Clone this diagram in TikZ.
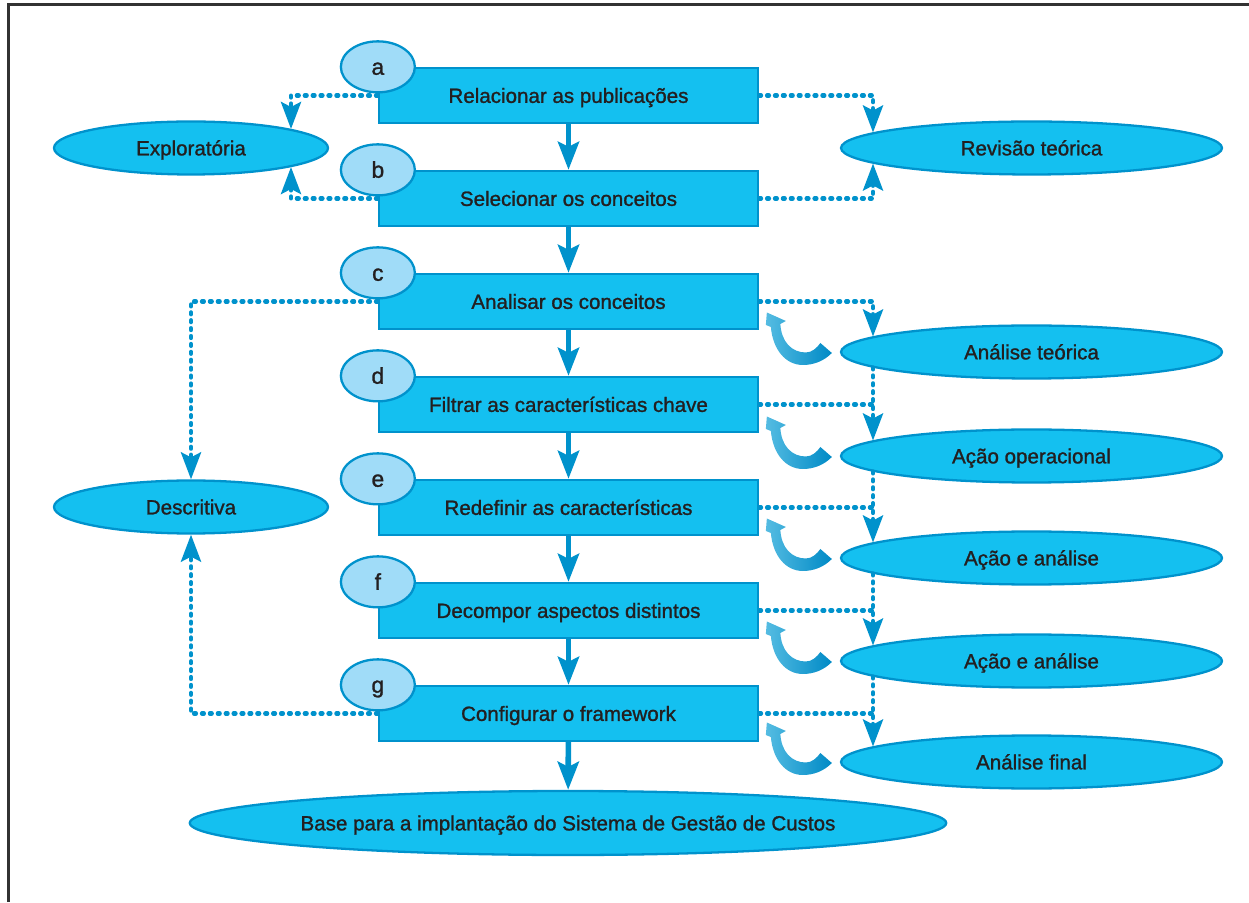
\documentclass[tikz,border=0pt]{standalone}
\usepackage{fontspec}
\setmainfont{Liberation Sans}[FakeBold=1.2]
\usetikzlibrary{arrows.meta,shapes.geometric}

\definecolor{boxblue}{RGB}{20,192,240}
\definecolor{lineblue}{RGB}{0,146,204}
\definecolor{labelblue}{RGB}{160,220,248}
\definecolor{textgray}{RGB}{35,31,32}
\definecolor{fblight}{RGB}{85,188,226}
\definecolor{fbdark}{RGB}{0,138,198}
\definecolor{framegray}{RGB}{50,50,50}

\tikzset{
    stepbox/.style={rectangle, draw=lineblue, line width=1.3pt, fill=boxblue, minimum width=7.58cm, minimum height=1.1cm, inner sep=0pt, text=textgray, font=\fontsize{11.7}{14}\selectfont, text height=8.4pt, text depth=0pt},
    letterlabel/.style={ellipse, draw=lineblue, line width=1.3pt, fill=labelblue, minimum width=1.48cm, minimum height=1.02cm, inner sep=0pt, text=textgray, font=\fontsize{13}{15}\selectfont, text height=9pt, text depth=0pt},
    sideoval/.style={ellipse, draw=lineblue, line width=1.3pt, fill=boxblue, minimum height=1.06cm, inner sep=0pt, text=textgray, font=\fontsize{11.7}{14}\selectfont, text height=8.4pt, text depth=0pt},
    mainarrow/.style={draw=lineblue, line width=3.2pt, -{Stealth[length=0.56cm, width=0.42cm, inset=0.1cm]}},
    dotline/.style={draw=lineblue, line width=2.4pt, line cap=round, dash pattern=on 1.1pt off 3.4pt},
    dotarrow/.style={dotline, -{Stealth[length=0.54cm, width=0.4cm, inset=0.1cm]}}
}

\begin{document}
\begin{tikzpicture}
        \useasboundingbox (0, 0) rectangle (24.98, 18.04);
        \newcommand{\backarrow}[1]{%
            \shade[left color=fblight, right color=fbdark, shift={(#1)}, x=0.02cm, y=-0.02cm]
                (-73, -39.5) -- (-54, -31) -- (-59.5, -28)
                .. controls (-58.5, -10) and (-48, 0.5) .. (-34, 0.5)
                .. controls (-28, 0.5) and (-23, -4) .. (-19.5, -9)
                -- (-8, 1)
                .. controls (-16, 9) and (-26, 13) .. (-37, 13)
                .. controls (-54, 13) and (-67, -2) .. (-69, -25)
                -- (-74, -27) -- cycle;}

        % frame
        \draw[line width=1.7pt, draw=framegray] (0.17, 0) -- (0.17, 17.956) -- (24.98, 17.956);

        % steps
        \node (ra) at (11.37, 16.13) [stepbox] {Relacionar as publicações};
        \node (sc) at (11.37, 14.07) [stepbox] {Selecionar os conceitos};
        \node (ac) at (11.37, 12.01) [stepbox] {Analisar os conceitos};
        \node (fc) at (11.37, 9.95) [stepbox] {Filtrar as características chave};
        \node (rc) at (11.37, 7.89) [stepbox] {Redefinir as características};
        \node (da) at (11.37, 5.83) [stepbox] {Decompor aspectos distintos};
        \node (cf) at (11.37, 3.77) [stepbox] {Configurar o framework};
        \node (base) at (11.36, 1.58) [sideoval, minimum width=15.04cm, minimum height=1.28cm] {Base para a implantação do Sistema de Gestão de Custos};

        % left ovals
        \node (ex) at (3.82, 15.08) [sideoval, minimum width=5.48cm] {Exploratória};
        \node (ds) at (3.82, 7.9) [sideoval, minimum width=5.48cm] {Descritiva};

        % right ovals
        \node (rt) at (20.63, 15.08) [sideoval, minimum width=7.62cm] {Revisão teórica};
        \node (at) at (20.63, 11.0) [sideoval, minimum width=7.62cm] {Análise teórica};
        \node (ao) at (20.63, 8.92) [sideoval, minimum width=7.62cm] {Ação operacional};
        \node (aa) at (20.63, 6.88) [sideoval, minimum width=7.62cm] {Ação e análise};
        \node (ab) at (20.63, 4.82) [sideoval, minimum width=7.62cm] {Ação e análise};
        \node (af) at (20.63, 2.8) [sideoval, minimum width=7.62cm] {Análise final};

        \draw[mainarrow] (ra) -- (sc);
        \draw[mainarrow] (sc) -- (ac);
        \draw[mainarrow] (ac) -- (fc);
        \draw[mainarrow] (fc) -- (rc);
        \draw[mainarrow] (rc) -- (da);
        \draw[mainarrow] (da) -- (cf);
        \draw[mainarrow] (cf) -- (base);

        \draw[dotarrow] (ra.west) -| ([shift={(2, 0.38)}]ex.center);
        \draw[dotarrow] (sc.west) -| ([shift={(2, -0.38)}]ex.center);
        \draw[dotarrow] (ra.east) -| ([shift={(-3.17, 0.31)}]rt.center);
        \draw[dotarrow] (sc.east) -| ([shift={(-3.17, -0.31)}]rt.center);
        \draw[dotarrow] (ac.west) -| (ds.north);
        \draw[dotarrow] (cf.west) -| (ds.south);

        \draw[dotarrow] (ac.east) -| ([shift={(-3.17, 0.31)}]at.center);
        \draw[dotline] (fc.east) -- ([shift={(-3.17, 0)}]fc.east -| ao.center);
        \draw[dotarrow] ([shift={(-3.17, -0.31)}]at.center) -- ([shift={(-3.17, 0.31)}]ao.center);
        \draw[dotline] (rc.east) -- ([shift={(-3.17, 0)}]rc.east -| aa.center);
        \draw[dotarrow] ([shift={(-3.17, -0.31)}]ao.center) -- ([shift={(-3.17, 0.31)}]aa.center);
        \draw[dotline] (da.east) -- ([shift={(-3.17, 0)}]da.east -| ab.center);
        \draw[dotarrow] ([shift={(-3.17, -0.31)}]aa.center) -- ([shift={(-3.17, 0.31)}]ab.center);
        \draw[dotline] (cf.east) -- ([shift={(-3.17, 0)}]cf.east -| af.center);
        \draw[dotarrow] ([shift={(-3.17, -0.31)}]ab.center) -- ([shift={(-3.17, 0.31)}]af.center);

        % letters
        \node (la) at (ra.north west) [letterlabel] {a};
        \node (lb) at (sc.north west) [letterlabel] {b};
        \node (lc) at (ac.north west) [letterlabel] {c};
        \node (ld) at (fc.north west) [letterlabel] {d};
        \node (le) at (rc.north west) [letterlabel] {e};
        \node (lf) at (da.north west) [letterlabel] {f};
        \node (lg) at (cf.north west) [letterlabel] {g};

        \backarrow{at.west}
        \backarrow{ao.west}
        \backarrow{aa.west}
        \backarrow{ab.west}
        \backarrow{af.west}
\end{tikzpicture}
\end{document}
